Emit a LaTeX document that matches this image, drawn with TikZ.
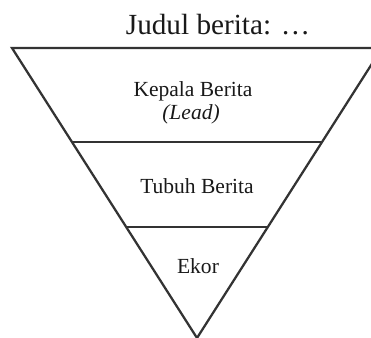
\documentclass[tikz,border=0pt]{standalone}
\usepackage{fontspec}
\setmainfont{Liberation Serif}
\begin{document}
\begin{tikzpicture}[x=0.02646cm, y=-0.02646cm,
		every node/.style={anchor=base, inner sep=0pt, text=black!90, font=\fontsize{16.2}{19}\selectfont},
		title/.style={font=\fontsize{22}{26}\selectfont},
		edge/.style={draw=black!80, line width=1.7pt, line join=miter}]

		\useasboundingbox (0,0) rectangle (371,338);

		\coordinate (tl) at (12, 48);
		\coordinate (tr) at (382, 48);
		\coordinate (apex) at (197, 338);

		\draw[edge] (tr) -- (tl) -- (apex) -- cycle;
		\draw[edge] (72, 142) -- (322, 142);
		\draw[edge] (126, 227) -- (268, 227);

		\node[title] (judul) at (218, 35) {Judul berita: \dots};
		\node (kepala) at (193, 97) {Kepala Berita};
		\node (lead) at (191, 120) {\textit{(Lead)}};
		\node (tubuh) at (197, 193) {Tubuh Berita};
		\node (ekor) at (198, 273) {Ekor};
	\end{tikzpicture}
\end{document}
